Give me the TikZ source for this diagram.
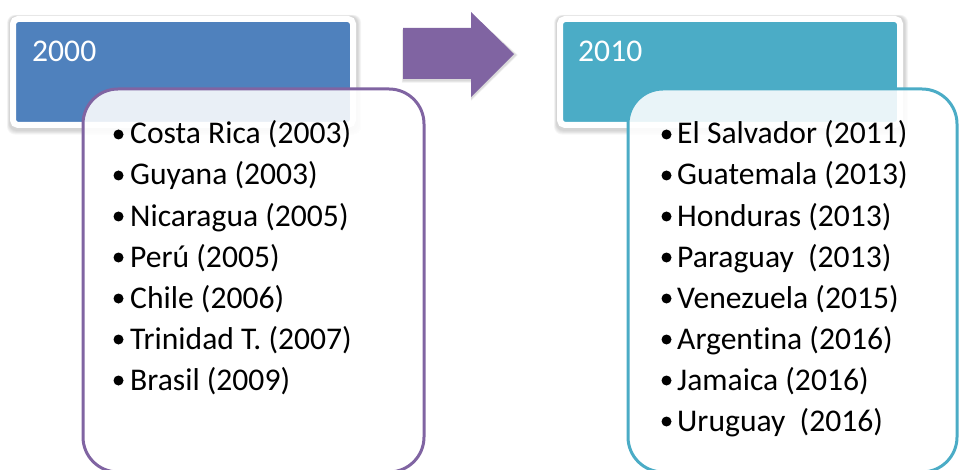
\documentclass[tikz,border=0pt]{standalone}
\usepackage{fontspec}
\setmainfont{Carlito}[Ligatures=NoCommon]
\definecolor{hdrblue}{HTML}{4F81BD}
\definecolor{hdrteal}{HTML}{4BACC6}
\definecolor{accpurple}{HTML}{8064A2}
\tikzset{
  header/.style={rounded corners=5pt, draw=white, line width=6pt, inner sep=0pt,
    minimum width=340pt, minimum height=106pt},
  softshadow/.style={fill=black, fill opacity=0.035, rounded corners=8pt},
  content/.style={rounded corners=35pt, line width=3pt, fill=white, fill opacity=0.88,
    draw opacity=1, inner sep=0pt, minimum height=383pt},
  htext/.style={anchor=base west, inner sep=0pt, text=white, font=\fontsize{31.6}{38}\selectfont},
  item/.style={anchor=base west, inner sep=0pt, text=black, font=\fontsize{31.6}{38}\selectfont},
  bulletdot/.style={fill=black},
}
\begin{document}
\begin{tikzpicture}[x=1pt,y=-1pt]
\useasboundingbox (0,0) rectangle (960,470);
\clip (0,0) rectangle (960,470);
% soft shadows of headers and arrow
\foreach \s in {0,1,2,3,4} {
  \fill[softshadow] (9-0.5*\s,16-0.3*\s) rectangle (358+0.8*\s,131+0.9*\s);
  \fill[softshadow] (556-0.5*\s,16-0.3*\s) rectangle (905+0.8*\s,131+0.9*\s);
  \fill[fill=black, fill opacity=0.03] (403-0.3*\s,29+0.2*\s) -- (471,29+0.2*\s) -- (471,13) -- (516+0.5*\s,55) -- (471,99+0.5*\s) -- (471,81+0.5*\s) -- (403-0.3*\s,81+0.5*\s) -- cycle;
}
% headers
\node[header, fill=hdrblue] (h1) at (183,72) {};
\node[header, fill=hdrteal] (h2) at (730,72) {};
\node[htext] (t1) at (32,62) {2000};
\node[htext] (t2) at (578,62) {2010};
% arrow
\fill[accpurple] (403,28) -- (471,28) -- (471,12) -- (514,54) -- (471,97) -- (471,79) -- (403,79) -- cycle;
% content boxes
\node[content, draw=accpurple, minimum width=341pt] (c1) at (253.5,280.5) {};
\node[content, draw=hdrteal, minimum width=329pt] (c2) at (792.5,280.5) {};
% items
\foreach \t [count=\i] in {Costa Rica (2003), Guyana (2003), Nicaragua (2005), Perú (2005), Chile (2006), Trinidad T. (2007), Brasil (2009)} {
  \node[item] (l\i) at (130,{144+41*(\i-1)}) {\t};
  \fill[bulletdot] (l\i.base west) ++(-11.5,-9.5) circle (5pt);
}
\foreach \t [count=\i] in {El Salvador (2011), Guatemala (2013), Honduras (2013), Paraguay\ \ (2013), Venezuela (2015), Argentina (2016), Jamaica (2016), Uruguay\ \ (2016)} {
  \node[item] (r\i) at (677,{144+41*(\i-1)}) {\t};
  \fill[bulletdot] (r\i.base west) ++(-10.5,-9.5) circle (5pt);
}
\end{tikzpicture}
\end{document}
